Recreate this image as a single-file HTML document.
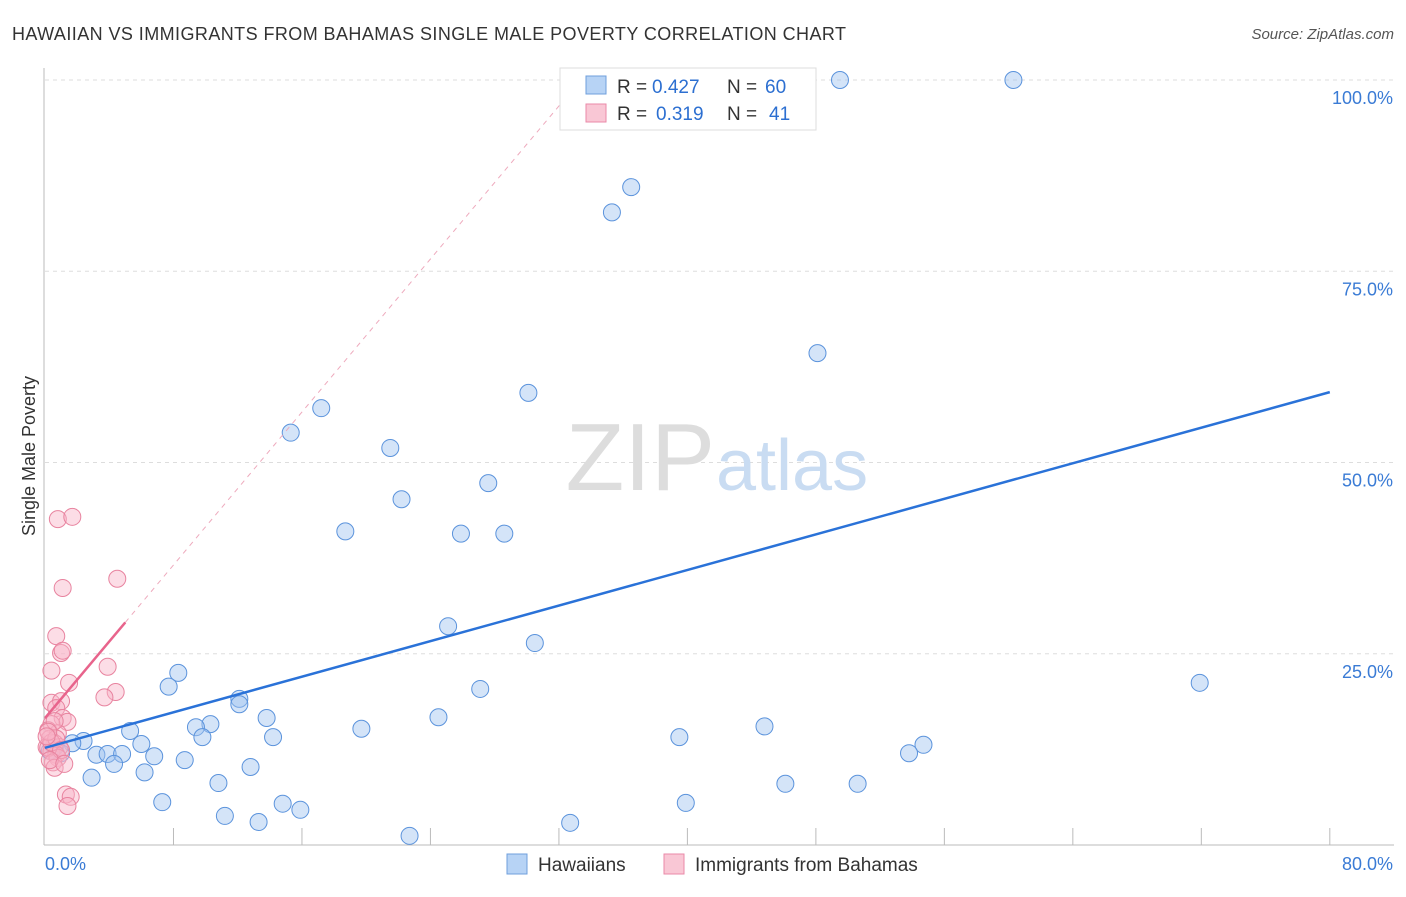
<!DOCTYPE html>
<html><head><meta charset="utf-8"><style>
body{margin:0;background:#fff;font-family:"Liberation Sans",sans-serif}
svg text{font-family:"Liberation Sans",sans-serif}
</style></head><body>
<svg width="1406" height="892">
<text x="12" y="40" font-size="18" fill="#333" textLength="834" lengthAdjust="spacing">HAWAIIAN VS IMMIGRANTS FROM BAHAMAS SINGLE MALE POVERTY CORRELATION CHART</text>
<text x="1394" y="39" font-size="15" fill="#555" text-anchor="end" font-style="italic">Source: ZipAtlas.com</text>
<g id="grid"></g>
<text x="715" y="490" font-size="96" fill="#ddd" text-anchor="end" font-family="Liberation Serif">ZIP</text>
<text x="716" y="490" font-size="72" fill="#c9dcf2">atlas</text>
<g id="marks"></g>
<text x="35" y="456" font-size="18" fill="#333" text-anchor="middle" transform="rotate(-90 35 456)">Single Male Poverty</text>
<g>
<rect x="560" y="68" width="256" height="62" fill="#fff" stroke="#ddd"/>
<rect x="586" y="76" width="20" height="18" fill="#b7d3f5" stroke="#6f9fdc"/>
<rect x="586" y="104" width="20" height="18" fill="#f9c7d5" stroke="#ea8aa8"/>
<text x="617" y="93" font-size="19" fill="#333">R =</text>
<text x="652" y="93" font-size="19" fill="#2c6fd1">0.427</text>
<text x="727" y="93" font-size="19" fill="#333">N =</text>
<text x="765" y="93" font-size="19" fill="#2c6fd1">60</text>
<text x="617" y="120" font-size="19" fill="#333">R =</text>
<text x="656" y="120" font-size="19" fill="#2c6fd1">0.319</text>
<text x="727" y="120" font-size="19" fill="#333">N =</text>
<text x="769" y="120" font-size="19" fill="#2c6fd1">41</text>
</g>
<g>
<rect x="507" y="854" width="20" height="20" fill="#b7d3f5" stroke="#6f9fdc"/>
<text x="538" y="871" font-size="19" fill="#333">Hawaiians</text>
<rect x="664" y="854" width="20" height="20" fill="#f9c7d5" stroke="#ea8aa8"/>
<text x="695" y="871" font-size="19" fill="#333">Immigrants from Bahamas</text>
</g>
</svg>
<script>
const yTicks=[25,50,75,100];
const yTickLabels=["25.0%","50.0%","75.0%","100.0%"];
const xTicks=[8,16,24,32,40,48,56,64,72,80];
const blueX=[49.5,60.3,36.5,35.3,48.1,30.1,17.2,15.3,21.5,22.2,27.6,18.7,25.9,28.6,25.1,30.5,71.9,27.1,8.3,7.7,12.1,12.1,13.8,10.3,9.4,9.8,5.3,14.2,19.7,24.5,39.5,44.8,54.7,53.8,6.0,2.4,1.7,1.0,3.2,3.9,4.8,6.8,8.7,4.3,12.8,6.2,2.9,10.8,46.1,50.6,7.3,39.9,14.8,15.9,11.2,13.3,32.7,22.7,0.6,0.3];
const blueY=[100,100,86,82.7,64.3,59.1,57.1,53.9,51.9,45.2,47.3,41.0,40.7,40.7,28.6,26.4,21.2,20.4,22.5,20.7,19.1,18.4,16.6,15.8,15.4,14.1,14.9,14.1,15.2,16.7,14.1,15.5,13.1,12.0,13.2,13.6,13.3,12.0,11.8,11.9,11.9,11.6,11.1,10.6,10.2,9.5,8.8,8.1,8.0,8.0,5.6,5.5,5.4,4.6,3.8,3.0,2.9,1.2,12.8,12.3];
const pinkX=[0.8,1.7,1.1,4.5,0.7,1.0,1.1,0.4,3.9,1.5,4.4,3.7,0.4,1.0,0.7,1.1,1.4,0.4,0.2,0.8,0.3,0.6,0.1,0.9,0.4,0.7,0.8,0.2,0.5,0.6,1.3,1.6,1.4,0.4,0.7,1.0,0.6,0.2,0.3,1.2,0.1];
const pinkY=[42.6,42.9,33.6,34.8,27.3,25.1,25.4,22.8,23.3,21.2,20.0,19.3,18.6,18.8,17.9,16.6,16.1,15.8,15.0,14.6,13.9,13.3,12.8,12.8,12.2,11.8,11.4,12.7,10.8,10.1,6.6,6.3,5.1,13.4,13.9,12.4,16.2,14.8,11.1,10.6,14.2];
const blueFit=[12.7,59.2];   // value at x=0 and x=80
const pinkFit=[16.6,2.5];    // intercept, slope
const X=v=>45+v*16.06, Y=v=>845-v*7.65;
const NS="http://www.w3.org/2000/svg";
function mk(p,t,a){const e=document.createElementNS(NS,t);for(const k in a)e.setAttribute(k,a[k]);p.appendChild(e);return e;}
const g=document.getElementById('grid'), m=document.getElementById('marks');
yTicks.forEach((t,i)=>{
 const l=mk(g,'line',{x1:45,x2:1394,y1:Y(t),y2:Y(t),stroke:'#ddd','stroke-dasharray':'4,4'});
 
 
 const tx=mk(g,'text',{x:1393,y:Y(t)+24,'font-size':18,fill:'#3a7bd5','text-anchor':'end'});
 tx.textContent=yTickLabels[i];
 
 
});
xTicks.forEach(t=>{
 const l=mk(g,'line',{x1:X(t),x2:X(t),y1:828,y2:845,stroke:'#bbb'});
 
 
});
const ax=mk(g,'line',{x1:44,x2:44,y1:68,y2:845,stroke:'#bbb'});


const bx=mk(g,'line',{x1:44,x2:1394,y1:845,y2:845,stroke:'#bbb'});


const x0=mk(g,'text',{x:45,y:870,'font-size':18,fill:'#3a7bd5'});x0.textContent='0.0%';


const x1=mk(g,'text',{x:1393,y:870,'font-size':18,fill:'#3a7bd5','text-anchor':'end'});x1.textContent='80.0%';


blueX.forEach((v,i)=>{
 const c=mk(m,'circle',{cx:X(v),cy:Y(blueY[i]),r:8.5,fill:'rgba(160,196,240,0.45)',stroke:'#5b93dc','stroke-width':1});
 
 
});
pinkX.forEach((v,i)=>{
 const c=mk(m,'circle',{cx:X(v),cy:Y(pinkY[i]),r:8.5,fill:'rgba(248,180,200,0.45)',stroke:'#e8839f','stroke-width':1});
 
 
});
const pEnd=(100-pinkFit[0])/pinkFit[1];
const pd=mk(m,'line',{x1:X(5),y1:Y(pinkFit[0]+pinkFit[1]*5),x2:X(pEnd),y2:Y(100),stroke:'#eeaabd','stroke-dasharray':'5,5'});


const ps=mk(m,'line',{x1:X(0),y1:Y(pinkFit[0]),x2:X(5),y2:Y(pinkFit[0]+pinkFit[1]*5),stroke:'#e8648c','stroke-width':2.5});


const bl=mk(m,'line',{x1:X(0),y1:Y(blueFit[0]),x2:X(80),y2:Y(blueFit[1]),stroke:'#2a72d8','stroke-width':2.5});


</script>
</body></html>
